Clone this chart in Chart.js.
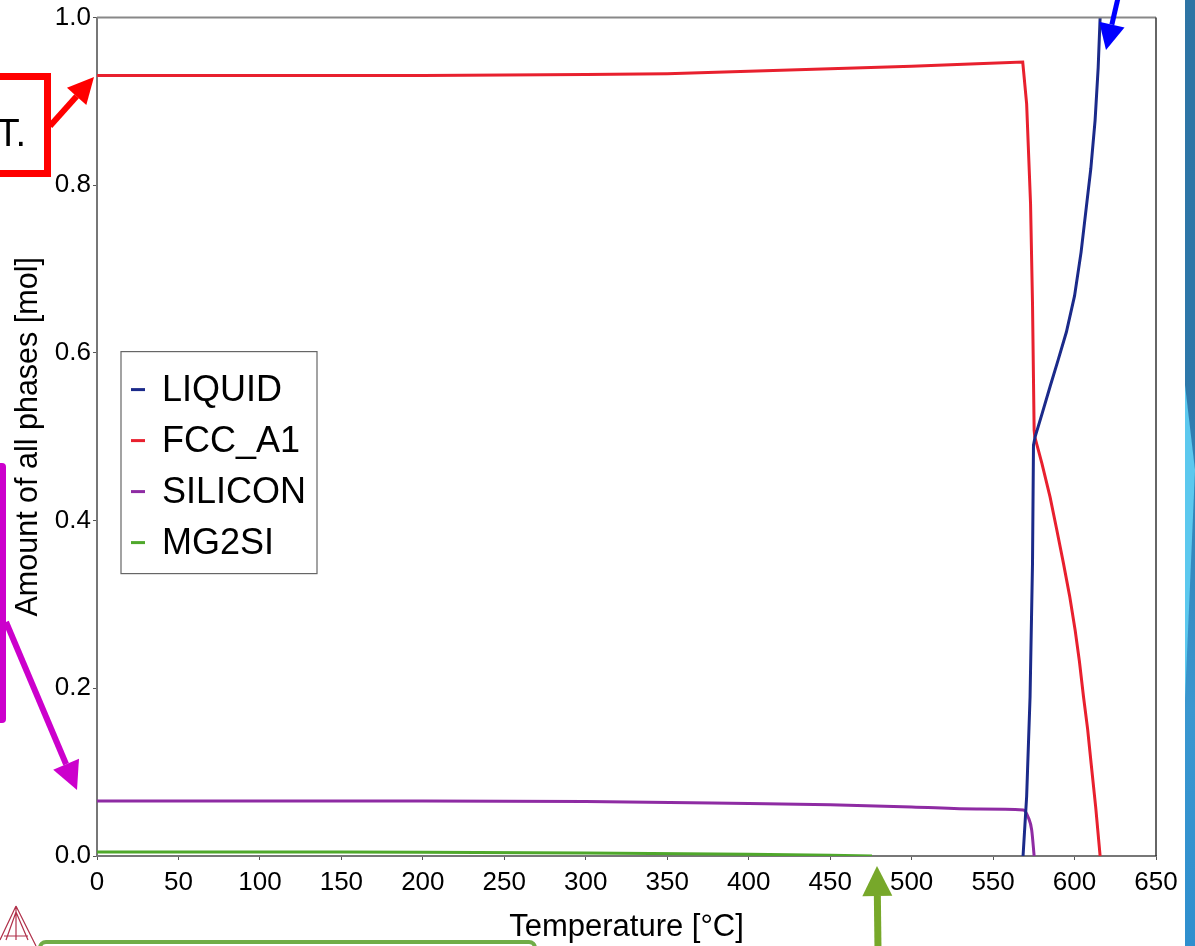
<!DOCTYPE html>
<html>
<head>
<meta charset="utf-8">
<script src="https://cdn.jsdelivr.net/npm/chart.js@4"></script>
<style>
  html, body { margin: 0; padding: 0; background: #fff; }
  #wrap { width: 1195px; height: 946px; }
</style>
</head>
<body>
<div id="wrap"><canvas id="myChart" width="1195" height="946"></canvas></div>
<script>
// values
let xTicks = [0, 50, 100, 150, 200, 250, 300, 350, 400, 450, 500, 550, 600, 650];
let yTicks = [0.0, 0.2, 0.4, 0.6, 0.8, 1.0];

let liquidT = [568.4, 570.6, 572.7, 574.2, 574.8, 575.8, 580, 585, 590, 595, 600, 604, 607, 610, 612.6, 614.5, 615.7];
let liquidV = [0, 0.071, 0.19, 0.349, 0.49, 0.50, 0.527, 0.56, 0.592, 0.625, 0.668, 0.72, 0.77, 0.82, 0.877, 0.94, 1.0];

let fccT = [0, 100, 200, 300, 350, 400, 450, 500, 540, 568.2, 570.6, 573.0, 574.2, 575.2, 575.6, 580, 585, 589, 593.2, 597, 600.4, 603, 605.5, 608, 610.2, 613, 615.7];
let fccV = [0.931, 0.931, 0.931, 0.932, 0.933, 0.936, 0.939, 0.942, 0.945, 0.947, 0.897, 0.778, 0.659, 0.508, 0.50, 0.468, 0.428, 0.39, 0.349, 0.31, 0.269, 0.232, 0.19, 0.152, 0.11, 0.058, 0];

let siT = [0, 200, 300, 400, 450, 500, 540, 568.6, 571.7, 573.7, 575.2];
let siV = [0.0655, 0.0655, 0.065, 0.0625, 0.061, 0.0585, 0.056, 0.0548, 0.0456, 0.031, 0];

let mgT = [0, 150, 200, 300, 400, 450, 475.7];
let mgV = [0.0047, 0.0047, 0.0045, 0.0036, 0.0022, 0.001, 0];

let names = ['LIQUID', 'FCC_A1', 'SILICON', 'MG2SI'];
let colors = ['#1b2a8a', '#e8202e', '#8e2ba3', '#4fa82b'];
let smooth = ['default', 'default', 'monotone', 'default'];

function pts(t, v) {
    return t.map((x, i) => ({ x: x, y: v[i] }));
}

let series = [pts(liquidT, liquidV), pts(fccT, fccV), pts(siT, siV), pts(mgT, mgV)];

let FONT = "'Liberation Sans', Arial, sans-serif";

// frame around the plot and the inside legend
const framePlugin = {
    id: 'frame',
    afterDraw(chart) {
        const ctx = chart.ctx;
        const a = chart.chartArea;
        ctx.save();
        ctx.lineWidth = 2;
        ctx.strokeStyle = '#888';
        ctx.beginPath();
        ctx.moveTo(a.left, a.top);
        ctx.lineTo(a.right, a.top);
        ctx.stroke();
        ctx.strokeStyle = '#333';
        ctx.lineWidth = 1.5;
        ctx.beginPath();
        ctx.moveTo(a.right, a.top);
        ctx.lineTo(a.right, a.bottom);
        ctx.stroke();

        // legend box
        const lx = a.left + 24, ly = a.top + 334;
        ctx.fillStyle = '#fff';
        ctx.fillRect(lx, ly, 196, 222);
        ctx.strokeStyle = '#666';
        ctx.lineWidth = 1.2;
        ctx.strokeRect(lx, ly, 196, 222);
        ctx.font = '36px ' + FONT;
        ctx.textBaseline = 'middle';
        chart.data.datasets.forEach((ds, i) => {
            const y = ly + 38 + i * 51;
            ctx.strokeStyle = ds.borderColor;
            ctx.lineWidth = 3;
            ctx.beginPath();
            ctx.moveTo(lx + 10, y);
            ctx.lineTo(lx + 24, y);
            ctx.stroke();
            ctx.fillStyle = '#000';
            ctx.fillText(ds.label, lx + 41, y + 1);
        });
        ctx.restore();
    }
};

// bits of the slide around the chart
function arrow(ctx, x1, y1, x2, y2, w, head, color) {
    const ang = Math.atan2(y2 - y1, x2 - x1);
    const bx = x2 - head * Math.cos(ang), by = y2 - head * Math.sin(ang);
    ctx.strokeStyle = color;
    ctx.fillStyle = color;
    ctx.lineWidth = w;
    ctx.beginPath();
    ctx.moveTo(x1, y1);
    ctx.lineTo(bx, by);
    ctx.stroke();
    ctx.beginPath();
    ctx.moveTo(x2, y2);
    ctx.lineTo(bx + head * 0.5 * Math.sin(ang), by - head * 0.5 * Math.cos(ang));
    ctx.lineTo(bx - head * 0.5 * Math.sin(ang), by + head * 0.5 * Math.cos(ang));
    ctx.closePath();
    ctx.fill();
}

const slidePlugin = {
    id: 'slide',
    afterDraw(chart) {
        const ctx = chart.ctx;
        ctx.save();
        // red callout
        ctx.strokeStyle = '#ff0000';
        ctx.lineWidth = 7;
        ctx.strokeRect(-20, 76.5, 67.5, 97);
        ctx.fillStyle = '#000';
        ctx.font = '38px ' + FONT;
        ctx.textBaseline = 'alphabetic';
        ctx.textAlign = 'right';
        ctx.fillText('T.', 26, 146);
        arrow(ctx, 50, 126, 94, 77, 6, 26, '#ff0000');
        // magenta callout
        ctx.fillStyle = '#cc00cc';
        ctx.beginPath();
        ctx.roundRect(-10, 463, 16, 260, 4);
        ctx.fill();
        arrow(ctx, 6, 622, 77, 790, 6, 28, '#cc00cc');
        // blue arrow
        arrow(ctx, 1118, -2, 1106, 50, 5, 26, '#0000ff');
        // green arrow and box
        arrow(ctx, 878, 950, 877, 866, 7, 30, '#77a82a');
        ctx.strokeStyle = '#70ad47';
        ctx.lineWidth = 4;
        ctx.beginPath();
        ctx.moveTo(40, 950);
        ctx.lineTo(40, 947);
        ctx.arcTo(40, 942, 48, 942, 6);
        ctx.lineTo(528, 942);
        ctx.arcTo(535, 942, 535, 950, 6);
        ctx.stroke();
        // logo
        ctx.strokeStyle = '#b0304a';
        ctx.lineWidth = 1.2;
        ctx.beginPath();
        ctx.moveTo(16, 906); ctx.lineTo(0, 940);
        ctx.moveTo(16, 906); ctx.lineTo(36, 946);
        ctx.moveTo(16, 906); ctx.lineTo(16, 940);
        ctx.moveTo(16, 912); ctx.lineTo(6, 940);
        ctx.moveTo(16, 912); ctx.lineTo(28, 940);
        ctx.moveTo(4, 936); ctx.lineTo(28, 936);
        ctx.stroke();
        // blue stripe at the right edge
        const g = ctx.createLinearGradient(0, 0, 0, 946);
        g.addColorStop(0, '#2e74a4');
        g.addColorStop(0.4, '#2e78aa');
        g.addColorStop(0.75, '#3a97d0');
        g.addColorStop(1, '#2f8fce');
        ctx.fillStyle = g;
        ctx.fillRect(1185, 0, 10, 946);
        ctx.fillStyle = '#5cc8ee';
        ctx.beginPath();
        ctx.moveTo(1185, 385);
        ctx.lineTo(1195, 470);
        ctx.lineTo(1185, 700);
        ctx.closePath();
        ctx.fill();
        ctx.restore();
    }
};

let ctx = document.getElementById('myChart').getContext('2d');
new Chart(ctx, {
    type: 'line',
    data: {
        datasets: series.map((d, i) => ({
            label: names[i],
            data: d,
            borderColor: colors[i],
            backgroundColor: colors[i],
            borderWidth: 3,
            pointRadius: 0,
            fill: false,
            cubicInterpolationMode: smooth[i],
            tension: 0
        }))
    },
    options: {
        responsive: false,
        animation: false,
        layout: { padding: { top: 17, right: 39, left: 0, bottom: 0 } },
        plugins: {
            legend: { display: false },
            tooltip: { enabled: false }
        },
        scales: {
            x: {
                type: 'linear',
                min: xTicks[0],
                max: xTicks[xTicks.length - 1],
                afterBuildTicks: axis => { axis.ticks = xTicks.map(v => ({ value: v })); },
                afterFit: axis => { axis.height = 90; },
                grid: { drawOnChartArea: false, drawTicks: true, tickLength: 4, color: '#555' },
                border: { display: true, color: '#777', width: 2 },
                ticks: { color: '#000', font: { family: FONT, size: 26 }, padding: 7, maxRotation: 0 },
                title: { display: true, text: 'Temperature [°C]', color: '#000', font: { family: FONT, size: 31 }, padding: { top: 0, bottom: 0 } }
            },
            y: {
                min: 0,
                max: 1,
                afterBuildTicks: axis => { axis.ticks = yTicks.map(v => ({ value: v })); },
                afterFit: axis => { axis.width = 97; },
                grid: { drawOnChartArea: false, drawTicks: true, tickLength: 4, color: '#555' },
                border: { display: true, color: '#777', width: 2 },
                ticks: { color: '#000', font: { family: FONT, size: 26 }, padding: 2, callback: v => v.toFixed(1) },
                title: { display: true, text: 'Amount of all phases [mol]', color: '#000', font: { family: FONT, size: 30.5 }, padding: { top: 10, bottom: 0 } }
            }
        }
    },
    plugins: [framePlugin, slidePlugin]
});
</script>
</body>
</html>
